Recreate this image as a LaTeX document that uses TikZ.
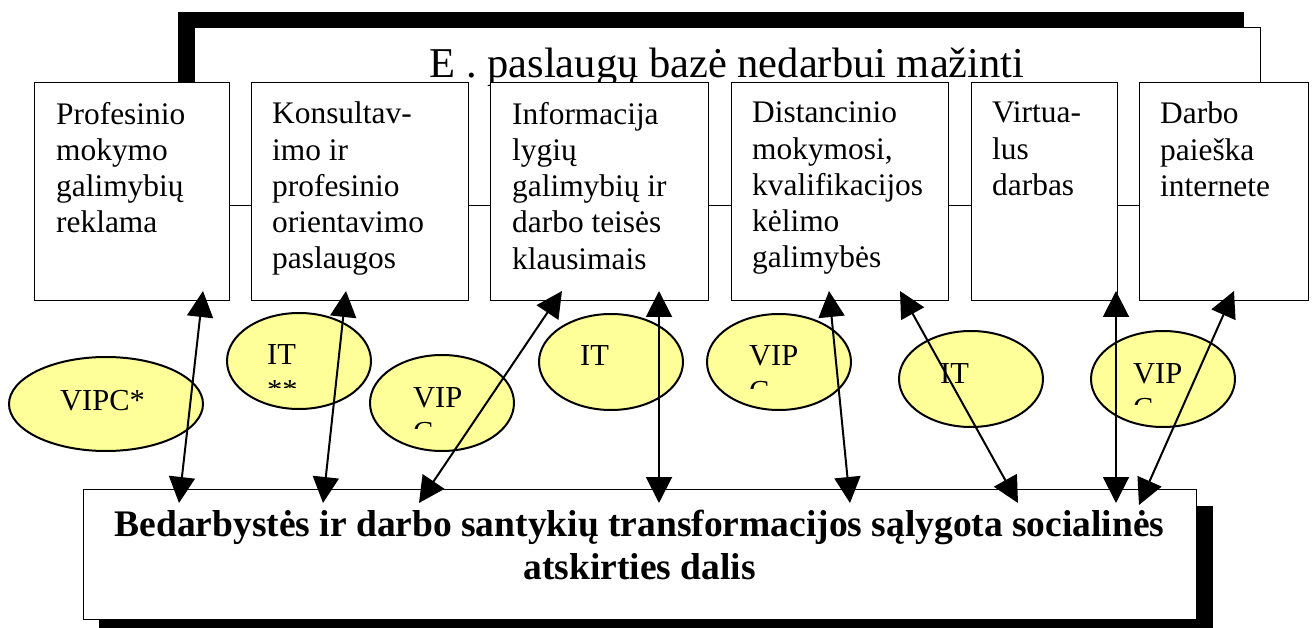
\documentclass[tikz,border=0pt]{standalone}
\usepackage{fontspec}
\setmainfont{Liberation Serif}
\usetikzlibrary{arrows.meta,shapes.geometric}
\definecolor{ellfill}{RGB}{255,255,153}
\tikzset{
 svcbox/.style={draw=black, line width=1pt, fill=white, rectangle, inner sep=0pt, outer sep=0pt, anchor=north west},
 shadowbox/.style={fill=black, draw=none, rectangle, inner sep=0pt, outer sep=0pt, anchor=north west},
 svctext/.style={anchor=north west, inner sep=0pt, align=left, font=\fontsize{31.4}{36.2}\selectfont},
 bubble/.style={draw=black, line width=2pt, fill=ellfill, ellipse, inner sep=0pt, outer sep=0pt},
 bubtext/.style={anchor=base west, inner sep=0pt, font=\fontsize{30.5}{35}\selectfont},
 biarrow/.style={line width=2pt, {Triangle[length=26pt,width=26pt]}-{Triangle[length=26pt,width=26pt]}},
}
\begin{document}
\begin{tikzpicture}[x=1pt,y=-1pt]
\useasboundingbox (0,0) rectangle (1315,628);
\clip (0,0) rectangle (1315,628);
% top frame with shadow
\node[shadowbox, minimum width=1066pt, minimum height=178pt] (fshadow) at (178,12) {};
\node[svcbox, minimum width=1066pt, minimum height=178pt] (frame) at (194,28) {};
\node[anchor=base, inner sep=0pt, font=\fontsize{42.5}{48}\selectfont] (title) at (727,78) {E . paslaugų bazė nedarbui mažinti};
% service boxes
\node[svcbox, minimum width=195pt, minimum height=218pt] (b1) at (34,83) {};
\node[svcbox, minimum width=217pt, minimum height=218pt] (b2) at (251,83) {};
\node[svcbox, minimum width=218pt, minimum height=218pt] (b3) at (490,83) {};
\node[svcbox, minimum width=217pt, minimum height=218pt] (b4) at (731,83) {};
\node[svcbox, minimum width=146pt, minimum height=218pt] (b5) at (971,83) {};
\node[svcbox, minimum width=169pt, minimum height=218pt] (b6) at (1139,83) {};
\node[svctext] (t1) at ([shift={(22,19)}]b1.north west) {Profesinio\\mokymo\\galimybių\\reklama};
\node[svctext] (t2) at ([shift={(21,19)}]b2.north west) {Konsultav-\\imo ir\\profesinio\\orientavimo\\paslaugos};
\node[svctext] (t3) at ([shift={(22,19)}]b3.north west) {Informacija\\lygių\\galimybių ir\\darbo teisės\\klausimais};
\node[svctext] (t4) at ([shift={(21,19)}]b4.north west) {Distancinio\\mokymosi,\\kvalifikacijos\\kėlimo\\galimybės};
\node[svctext] (t5) at ([shift={(21,19)}]b5.north west) {Virtua-\\lus\\darbas};
\node[svctext] (t6) at ([shift={(21,19)}]b6.north west) {Darbo\\paieška\\internete};
% bottom box with shadow
\node[shadowbox, minimum width=1114pt, minimum height=130pt] (bshadow) at (99,506) {};
\node[svcbox, minimum width=1113pt, minimum height=130pt] (bottom) at (83,489) {};
\node[anchor=north, inner sep=0pt, align=center, font=\bfseries\fontsize{37.5}{43.5}\selectfont] (btext) at (639.5,509.5) {Bedarbystės ir darbo santykių transformacijos sąlygota socialinės\\atskirties dalis};
% ellipses
\node[bubble, minimum width=194pt, minimum height=94pt] (e1) at (106,404) {};
\node[bubble, minimum width=144pt, minimum height=96pt] (e2) at (299,361) {};
\node[bubble, minimum width=144pt, minimum height=96pt] (e3) at (442,403) {};
\node[bubble, minimum width=144pt, minimum height=96pt] (e4) at (611,362) {};
\node[bubble, minimum width=144pt, minimum height=96pt] (e5) at (779,362) {};
\node[bubble, minimum width=144pt, minimum height=96pt] (e6) at (971,379) {};
\node[bubble, minimum width=144pt, minimum height=96pt] (e7) at (1163,379) {};
\node[bubtext] (l1) at (60,410) {VIPC*};
\node[bubtext] (l2) at (267,365) {IT};
\node[bubtext] (l3) at (413,407) {VIP};
\node[bubtext] (l4) at (580,366) {IT};
\node[bubtext] (l5) at (749,366) {VIP};
\node[bubtext] (l6) at (940,383) {IT};
\node[bubtext] (l7) at (1133,383) {VIP};
\begin{scope}
\clip (262,370) rectangle (320,387);
\node[bubtext] (m2) at (267,400) {**};
\end{scope}
\begin{scope}
\clip (408,412) rectangle (470,428);
\node[bubtext] (m3) at (413,442) {C};
\end{scope}
\begin{scope}
\clip (744,371) rectangle (806,388);
\node[bubtext] (m5) at (749,401) {C};
\end{scope}
\begin{scope}
\clip (1128,388) rectangle (1190,404);
\node[bubtext] (m7) at (1133,418) {C};
\end{scope}
% arrow ends
\coordinate (u1) at (203,291); \coordinate (d1) at (179,503);
\coordinate (u2) at (346,291); \coordinate (d2) at (323,503);
\coordinate (u3) at (562,291); \coordinate (d3) at (419,503);
\coordinate (u4) at (659,291); \coordinate (d4) at (659,503);
\coordinate (u5) at (829,291); \coordinate (d5) at (850,503);
\coordinate (u6) at (900,291); \coordinate (d6) at (1018,503);
\coordinate (u7) at (1116,291); \coordinate (d7) at (1116,503);
\coordinate (u8) at (1234,291); \coordinate (d8) at (1139,505);
\draw[biarrow] (d1) -- (u1);
\draw[biarrow] (d2) -- (u2);
\draw[biarrow] (d3) -- (u3);
\draw[biarrow] (d4) -- (u4);
\draw[biarrow] (d5) -- (u5);
\draw[biarrow] (d6) -- (u6);
\draw[biarrow] (d7) -- (u7);
\draw[biarrow] (d8) -- (u8);
\end{tikzpicture}
\end{document}
